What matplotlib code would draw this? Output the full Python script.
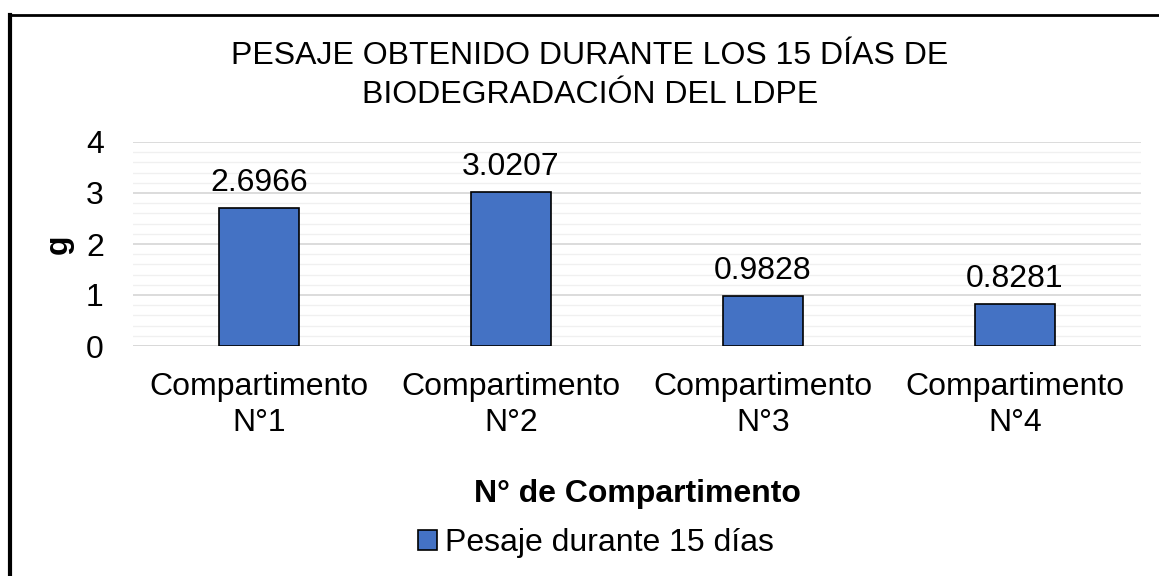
import matplotlib.pyplot as plt
from matplotlib.lines import Line2D
from matplotlib.ticker import MultipleLocator

plt.rcParams['font.family'] = ['Liberation Sans', 'DejaVu Sans']

categories = ["Compartimento\nN°1", "Compartimento\nN°2", "Compartimento\nN°3", "Compartimento\nN°4"]
values = [2.6966, 3.0207, 0.9828, 0.8281]
labels = ["2.6966", "3.0207", "0.9828", "0.8281"]
series_name = "Pesaje durante 15 días"

fs = 23

fig = plt.figure(figsize=(11.59, 5.76), dpi=100)
ax = fig.add_axes([133 / 1159, 1 - 346 / 576, 1008 / 1159, 204 / 576])

x = range(len(values))
bars = ax.bar(x, values, width=0.317, color="#4472C4", edgecolor="black", linewidth=1.2,
              label=series_name, zorder=3)
for b, t in zip(bars, labels):
    ax.annotate(t, (b.get_x() + b.get_width() / 2, b.get_height()), xytext=(0, 18),
                textcoords="offset points", ha="center", va="center", fontsize=fs)

ax.set_xlim(-0.5, 3.5)
ax.set_ylim(0, 4)
ax.yaxis.set_major_locator(MultipleLocator(1))
ax.yaxis.set_minor_locator(MultipleLocator(0.2))
ax.grid(which="major", axis="y", color="#d9d9d9", linewidth=1.3, zorder=0)
ax.grid(which="minor", axis="y", color="#f0f0f0", linewidth=1.0, zorder=0)
ax.set_xticks(list(x))
ax.set_xticklabels(categories, fontsize=fs, linespacing=1.26)
ax.tick_params(axis="both", which="both", length=0, labelsize=fs)
ax.tick_params(axis="x", pad=18.5)
ax.tick_params(axis="y", pad=21)
for s in ax.spines.values():
    s.set_visible(False)
ax.axhline(0, color="#d9d9d9", linewidth=1.3, zorder=1)

ax.set_ylabel("g", fontsize=fs, fontweight="bold", labelpad=9)
ax.set_xlabel("N° de Compartimento", fontsize=fs, fontweight="bold", labelpad=30)

fig.text(590 / 1159, 1 - 75.5 / 576, "PESAJE OBTENIDO DURANTE LOS 15 DÍAS DE\nBIODEGRADACIÓN DEL LDPE",
         ha="center", va="center", fontsize=fs, linespacing=1.35)

handle = [plt.Rectangle((0, 0), 1, 1, facecolor="#4472C4", edgecolor="black", linewidth=1.2)]
fig.legend(handle, [series_name], loc="center", bbox_to_anchor=(596 / 1159, 1 - 543 / 576),
           frameon=False, fontsize=fs, handlelength=0.6, handleheight=0.6, handletextpad=0.25)

# outer frame (top and left only)
fig.add_artist(Line2D([10 / 1159, 1], [1 - 15 / 576, 1 - 15 / 576], color="black", linewidth=2,
                      transform=fig.transFigure))
fig.add_artist(Line2D([10 / 1159, 10 / 1159], [0, 1 - 15 / 576], color="black", linewidth=3,
                      transform=fig.transFigure))

fig.savefig("out.png", dpi=100)
